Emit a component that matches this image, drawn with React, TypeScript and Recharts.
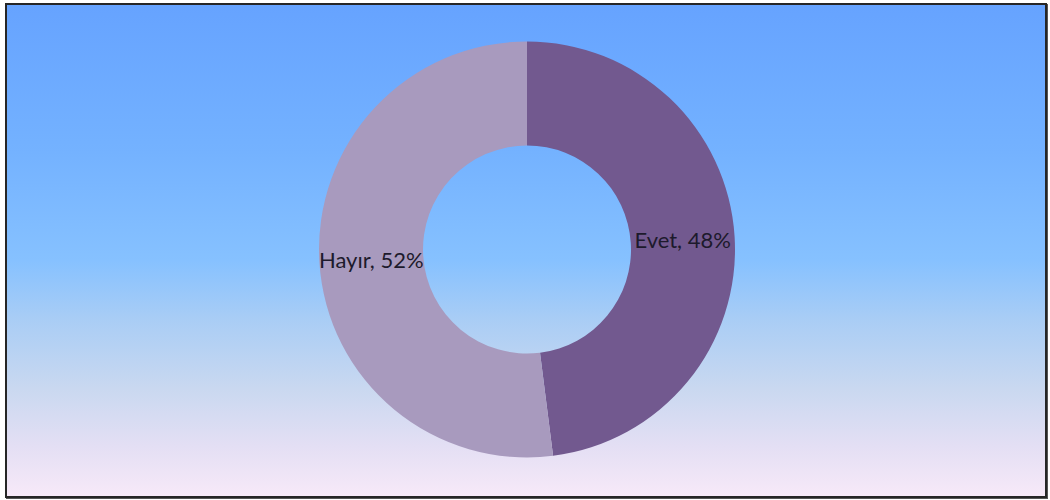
import { Cell, Pie, PieChart } from 'recharts'

const categories = ['Evet', 'Hayır']
const shares = [48, 52]
const sliceColors = ['#72598f', '#a89abe']

const chartData = categories.map((name, index) => ({ name, value: shares[index] ?? 0 }))

const RADIAN = Math.PI / 180

type LabelProps = {
  cx: number
  cy: number
  midAngle: number
  innerRadius: number
  outerRadius: number
  name: string
  value: number
}

const renderLabel = ({ cx, cy, midAngle, innerRadius, outerRadius, name, value }: LabelProps) => {
  const r = (innerRadius + outerRadius) / 2
  const x = cx + r * Math.cos(-midAngle * RADIAN)
  const y = cy + r * Math.sin(-midAngle * RADIAN)
  return (
    <text
      x={x}
      y={y}
      fill="#1d1a2c"
      textAnchor="middle"
      dominantBaseline="central"
      style={{ fontFamily: 'Lato, "Open Sans", sans-serif', fontSize: 22 }}
    >
      {`${name}, ${value}%`}
    </text>
  )
}

const App = () => {
  return (
    <div style={{ position: 'absolute', left: 0, top: 0, width: 1050, height: 500 }}>
      <div
        style={{
          position: 'absolute',
          left: 5,
          top: 3,
          width: 1038,
          height: 491,
          border: '2px solid #262626',
          boxShadow: '1px 1px 0 #555',
          background: 'linear-gradient(to bottom, #66a3ff 0%, #74b2ff 30%, #86c1ff 52%, #a9cdf5 64%, #c9d8f0 78%, #e4dff4 90%, #f7e9f8 100%)',
        }}
      />
      <div style={{ position: 'absolute', left: 0, top: 0 }}>
        <PieChart width={1050} height={500} margin={{ top: 0, right: 0, bottom: 0, left: 0 }}>
          <Pie
            data={chartData}
            dataKey="value"
            nameKey="name"
            cx={527}
            cy={249.5}
            innerRadius={104}
            outerRadius={208}
            startAngle={90}
            endAngle={-270}
            stroke="none"
            label={renderLabel}
            labelLine={false}
            isAnimationActive={false}
          >
            {chartData.map((entry, index) => (
              <Cell key={entry.name} fill={sliceColors[index]} />
            ))}
          </Pie>
        </PieChart>
      </div>
    </div>
  )
}

export default App
